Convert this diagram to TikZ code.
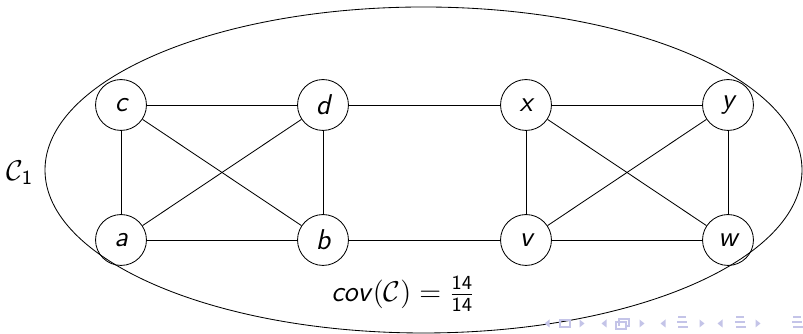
\documentclass[tikz,border=0pt,11pt]{standalone}
\usepackage{fix-cm}
\usepackage{amsmath,amssymb}
\usepackage{tikz}
\definecolor{navgray}{RGB}{196,196,232}

\begin{document}
\begin{tikzpicture}[x=0.0167cm, y=0.0167cm, every node/.style={font=\fontsize{13.6}{16}\selectfont\sffamily},
	vtx/.style={draw, circle, minimum size=0.85cm, inner sep=0pt, font=\fontsize{13.6}{16}\selectfont\sffamily\slshape},
	navbox/.style={draw=navgray, line width=0.8pt}]
	\useasboundingbox (0,0) rectangle (803,334);
	\draw (423.5,164) ellipse [x radius=378.5, y radius=163];
	\node[vtx] (c) at (121,229) {c};
	\node[vtx] (d) at (323,229) {d};
	\node[vtx] (x) at (526,229) {x};
	\node[vtx] (y) at (728,229) {y};
	\node[vtx] (a) at (121,94) {a};
	\node[vtx] (b) at (323,94) {b};
	\node[vtx] (v) at (526,94) {v};
	\node[vtx] (w) at (728,94) {w};
	\foreach \p/\q in {c/d, c/a, c/b, d/a, d/b, a/b, d/x, b/v, x/y, x/v, x/w, y/v, y/w, v/w}
		\draw (\p) -- (\q);
	\node (cone) at (20,161) {$\mathcal{C}_{\mathsf{1}}$};
	\node (cov) at (403,40) {\textsf{\slshape cov}$(\mathcal{C}) = \frac{\mathsf{14}}{\mathsf{14}}$};
	% navigation symbols
	\foreach \t in {547,604,663,720}
		\fill[navgray] (\t+2.5,14.5) -- (\t-2.5,10.5) -- (\t+2.5,6.5) -- cycle;
	\foreach \t in {582,642,702,758}
		\fill[navgray] (\t-2.5,14.5) -- (\t+2.5,10.5) -- (\t-2.5,6.5) -- cycle;
	\draw[navbox] (560,7) rectangle (570,14);
	\draw[navbox] (616,5) rectangle (626,12);
	\draw[navbox] (619,8) -- (619,15) -- (629,15) -- (629,8) -- (626,8);
	\foreach \t in {682,740,797} {
		\fill[navgray] (\t-4,16) rectangle (\t+4,17.5);
		\fill[navgray] (\t-5,11) rectangle (\t+5,12.5);
		\fill[navgray] (\t-4,6) rectangle (\t+6,7.5);
	}
\end{tikzpicture}
\end{document}
